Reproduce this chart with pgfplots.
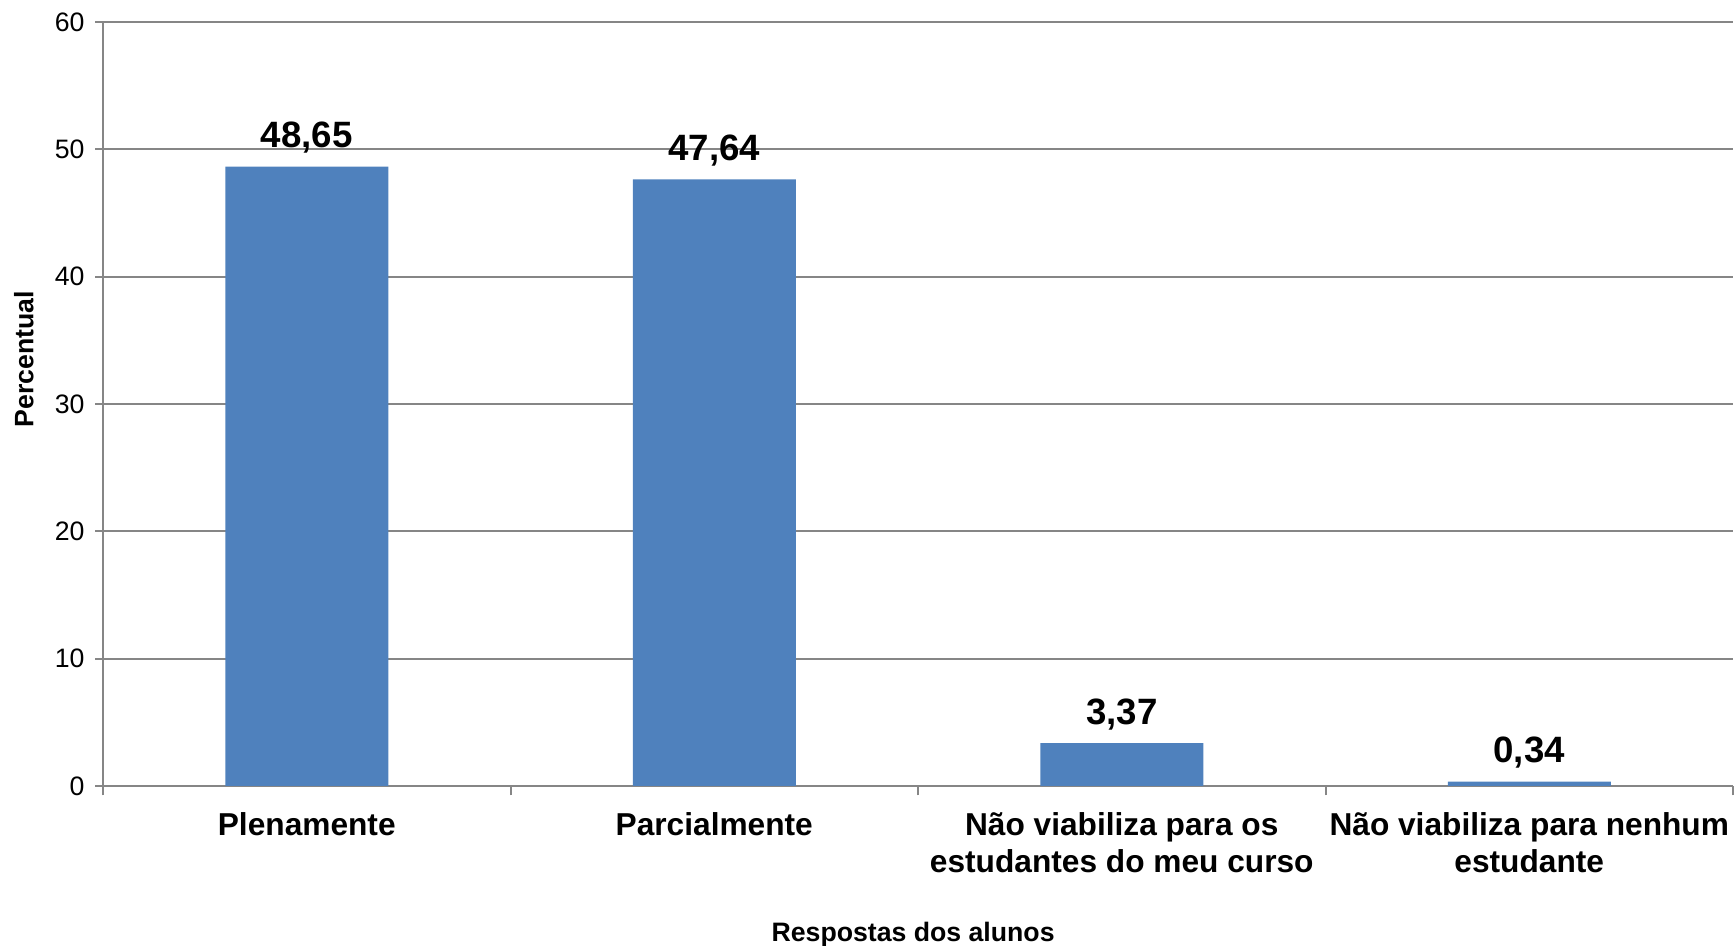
\documentclass[border=0pt]{standalone}
\usepackage{fontspec}
\setmainfont{Liberation Sans}
\usepackage{pgfplots}
\pgfplotsset{compat=1.18}
\usetikzlibrary{calc}
\definecolor{barblue}{RGB}{79,129,189}
\definecolor{gridgray}{RGB}{134,134,134}

\begin{document}
\begin{tikzpicture}
\begin{axis}[
  name=ax,
  scale only axis,
  width=489pt, height=229.2pt,
  ybar,
  xmin=-0.5, xmax=3.5,
  ymin=0, ymax=60,
  axis lines=left,
  axis line style={draw=gridgray, line width=0.6pt, -},
  ytick={0,10,...,60},
  ymajorgrids,
  grid style={draw=gridgray, line width=0.6pt},
  xtick={0,1,2,3},
  xticklabels={Plenamente, Parcialmente,
    {Não viabiliza para os\\estudantes do meu curso},
    {Não viabiliza para nenhum\\estudante}},
  major x tick style={draw=none},
  minor xtick={-0.5,0.5,1.5,2.5,3.5},
  tick align=outside,
  tick style={draw=gridgray, line width=0.6pt},
  major tick length=2.4pt,
  minor tick length=2.8pt,
  /pgf/number format/assume math mode=true,
  yticklabel style={font=\fontsize{8}{9.6}\selectfont, xshift=0.4pt},
  xticklabel style={font=\fontsize{9.5}{11.2}\selectfont\bfseries, align=center, anchor=north, yshift=-1.9pt},
  xlabel={Respostas dos alunos},
  ylabel={Percentual},
  xlabel style={font=\fontsize{8}{9.6}\selectfont\bfseries, at={(axis description cs:0.497,-0.194)}, anchor=center},
  ylabel style={font=\fontsize{8}{9.6}\selectfont\bfseries, at={(axis description cs:-0.0485,0.5586)}, anchor=center},
  nodes near coords,
  point meta=explicit symbolic,
  nodes near coords style={font=\fontsize{11}{13}\selectfont\bfseries, anchor=base, yshift=5.7pt, black},
]
\addplot[fill=barblue, draw=none, bar width=0.4]
  coordinates {(0,48.65) [48,65] (1,47.64) [47,64] (2,3.37) [3,37] (3,0.34) [0,34]};
\end{axis}
\pgfresetboundingbox
\path[use as bounding box] ($(ax.south west)+(-30.9pt,-48pt)$) rectangle ($(ax.north east)+(0.3pt,6.6pt)$);
\end{tikzpicture}
\end{document}
